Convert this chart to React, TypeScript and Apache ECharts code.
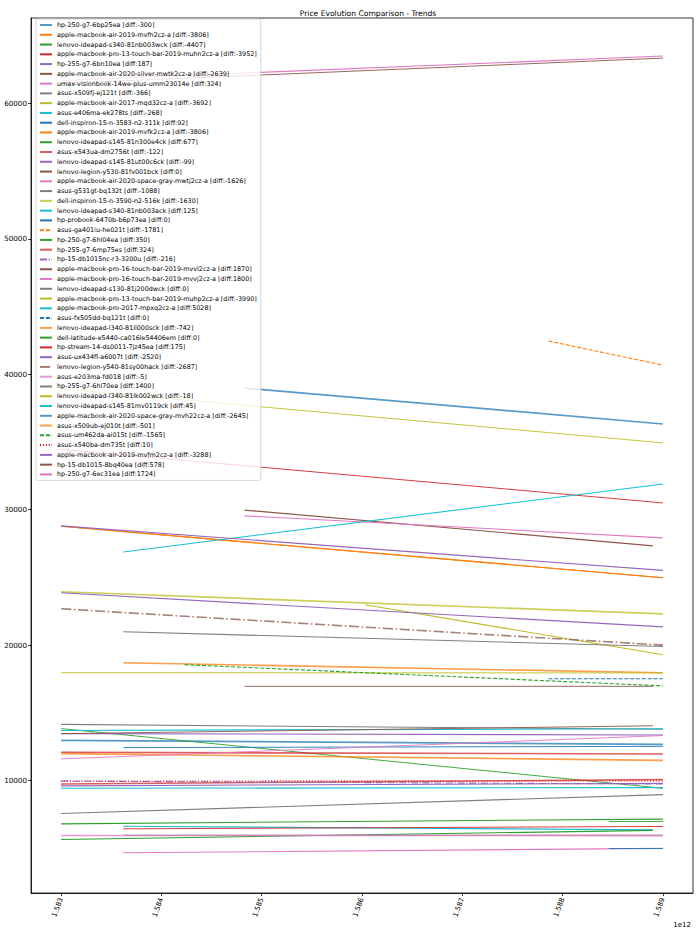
import React, { useEffect, useRef } from "react";
import * as echarts from "echarts";

// ---------- data ----------
const productNames = [
  "hp-250-g7-6bp25ea",
  "apple-macbook-air-2019-mvfh2cz-a",
  "lenovo-ideapad-s340-81nb003wck",
  "apple-macbook-pro-13-touch-bar-2019-muhn2cz-a",
  "hp-255-g7-6bn10ea",
  "apple-macbook-air-2020-silver-mwtk2cz-a",
  "umax-visionbook-14we-plus-umm23014e",
  "asus-x509fj-ej121t",
  "apple-macbook-air-2017-mqd32cz-a",
  "asus-e406ma-ek278ts",
  "dell-inspiron-15-n-3583-n2-311k",
  "apple-macbook-air-2019-mvfk2cz-a",
  "lenovo-ideapad-s145-81n300e4ck",
  "asus-x543ua-dm2756t",
  "lenovo-ideapad-s145-81ut00c6ck",
  "lenovo-legion-y530-81fv001bck",
  "apple-macbook-air-2020-space-gray-mwtj2cz-a",
  "asus-g531gt-bq132t",
  "dell-inspiron-15-n-3590-n2-516k",
  "lenovo-ideapad-s340-81nb003ack",
  "hp-probook-6470b-b6p73ea",
  "asus-ga401iu-he021t",
  "hp-250-g7-6hl04ea",
  "hp-255-g7-6mp75es",
  "hp-15-db1015nc-r3-3200u",
  "apple-macbook-pro-16-touch-bar-2019-mvvl2cz-a",
  "apple-macbook-pro-16-touch-bar-2019-mvvj2cz-a",
  "lenovo-ideapad-s130-81j200dwck",
  "apple-macbook-pro-13-touch-bar-2019-muhp2cz-a",
  "apple-macbook-pro-2017-mpxq2cz-a",
  "asus-fx505dd-bq121t",
  "lenovo-ideapad-l340-81ll000sck",
  "dell-latitude-e5440-ca016le54406em",
  "hp-stream-14-ds0011-7jz45ea",
  "asus-ux434fl-a6007t",
  "lenovo-legion-y540-81sy00hack",
  "asus-e203ma-fd018",
  "hp-255-g7-6hl70ea",
  "lenovo-ideapad-l340-81lk002wck",
  "lenovo-ideapad-s145-81mv0119ck",
  "apple-macbook-air-2020-space-gray-mvh22cz-a",
  "asus-x509ub-ej010t",
  "asus-um462da-ai015t",
  "asus-x540ba-dm735t",
  "apple-macbook-air-2019-mvfm2cz-a",
  "hp-15-db1015-8bq40ea",
  "hp-250-g7-6ec31ea",
];

const priceDiffs = [
  -300, -3806, -4407, -3952, 187, -2639, 324, -366, -3692, -268,
  92, -3806, 677, -122, -99, 0, -1626, -1088, -1630, 125,
  0, -1781, 350, 324, -216, 1870, 1800, 0, -3990, 5028,
  0, -742, 0, 175, -2520, -2687, -5, 1400, -18, 45,
  -2645, -501, -1565, 10, -3288, 578, 1724,
];

// timestamps (ms) of first and last trend point
const startTimes = [
  1583000000000, 1583000000000, 1583000000000, 1583000000000, 1583000000000,
  1584830000000, 1583620000000, 1583000000000, 1586030000000, 1583620000000,
  1583620000000, 1583000000000, 1583000000000, 1583000000000, 1583000000000,
  1584830000000, 1584830000000, 1583620000000, 1583000000000, 1583000000000,
  1588460000000, 1587860000000, 1583000000000, 1583000000000, 1583000000000,
  1583000000000, 1583000000000, 1583620000000, 1583000000000, 1583620000000,
  1587860000000, 1583620000000, 1588460000000, 1583620000000, 1583000000000,
  1583000000000, 1583000000000, 1583000000000, 1583000000000, 1583000000000,
  1584830000000, 1583000000000, 1584230000000, 1583000000000, 1583000000000,
  1583000000000, 1583000000000,
];

const endTimes = [
  1589000000000, 1589000000000, 1589000000000, 1589000000000, 1589000000000,
  1588900000000, 1589000000000, 1589000000000, 1589000000000, 1588900000000,
  1589000000000, 1589000000000, 1588900000000, 1589000000000, 1589000000000,
  1588900000000, 1589000000000, 1589000000000, 1589000000000, 1589000000000,
  1589000000000, 1589000000000, 1589000000000, 1589000000000, 1589000000000,
  1589000000000, 1589000000000, 1589000000000, 1589000000000, 1589000000000,
  1589000000000, 1589000000000, 1589000000000, 1589000000000, 1589000000000,
  1589000000000, 1589000000000, 1589000000000, 1589000000000, 1589000000000,
  1589000000000, 1589000000000, 1589000000000, 1589000000000, 1589000000000,
  1588900000000, 1589000000000,
];

const startPrices = [
  12970, 28780, 13840, 34450, 9610, 29970, 4668, 14150, 22980, 6630,
  12434, 28780, 5649, 12087, 13466, 16960, 29546, 20990, 23940, 13700,
  4985, 42450, 6807, 9750, 9960, 61470, 61690, 5966, 38920, 26872,
  17520, 18700, 6976, 6438, 23865, 22685, 5944, 7566, 17965, 9432,
  38975, 11991, 18555, 9971, 28805, 13466, 11600,
];

const endPrices = [
  12670, 24974, 9433, 30498, 9797, 27331, 4992, 13784, 19288, 6362,
  12526, 24974, 6326, 11965, 13367, 16960, 27920, 19902, 22310, 13825,
  4985, 40669, 7157, 10074, 9744, 63340, 63490, 5966, 34930, 31900,
  17520, 17958, 6976, 6613, 21345, 19998, 5939, 8966, 17947, 9477,
  36330, 11490, 16990, 9981, 25517, 14044, 13324,
];

const xTickValues = [
  1583000000000, 1584000000000, 1585000000000, 1586000000000,
  1587000000000, 1588000000000, 1589000000000,
];
const yTickValues = [10000, 20000, 30000, 40000, 50000, 60000];

// ---------- styles ----------
const palette = [
  "#1f77b4", "#ff7f0e", "#2ca02c", "#d62728", "#9467bd",
  "#8c564b", "#e377c2", "#7f7f7f", "#bcbd22", "#17becf",
];
// t = thin, m = medium, b = bold
const weightCodes = "bmttmmmmmmtmmbmtmmbmtmmbmtmmtmmbttmbbmtmbbmmmtt";
const dashCodes: Record<number, string> = {
  21: "dashed", 24: "dashdot", 30: "dashed", 35: "dashdot", 42: "dashed", 43: "dotted",
};

function lineStyleFor(i: number) {
  const w = weightCodes[i];
  const width = w === "b" ? 1.6 : w === "t" ? 0.9 : 1.1;
  const opacity = w === "b" ? 0.75 : 1;
  const d = dashCodes[i];
  let type: any = "solid";
  if (d === "dashed") type = [3.7 * width, 1.6 * width];
  else if (d === "dotted") type = [1 * width, 1.65 * width];
  else if (d === "dashdot") type = [6.4 * width, 1.6 * width, 1 * width, 1.6 * width];
  return { color: palette[i % 10], width, opacity, type };
}

const FONT = "DejaVu Sans";

export default function App() {
  const ref = useRef<HTMLDivElement>(null);

  useEffect(() => {
    if (!ref.current) return;
    const chart = echarts.init(ref.current, undefined, { renderer: "svg" });

    const series = productNames.map((name, i) => ({
      type: "line",
      name: `${name} [diff:${priceDiffs[i]}]`,
      data: [
        [startTimes[i], startPrices[i]],
        [endTimes[i], endPrices[i]],
      ],
      symbol: "none",
      showSymbol: false,
      silent: true,
      lineStyle: lineStyleFor(i),
      itemStyle: { color: palette[i % 10] },
      emphasis: { disabled: true },
    }));

    chart.setOption({
      animation: false,
      backgroundColor: "#ffffff",
      title: {
        text: "Price Evolution Comparison - Trends",
        left: 363,
        top: 4,
        textAlign: "center",
        textStyle: { fontSize: 7.6, fontWeight: "normal", color: "#000", fontFamily: FONT },
      },
      grid: {
        left: 31,
        right: 7,
        top: 18,
        bottom: 40,
        show: true,
        borderColor: "#000",
        borderWidth: 0.8,
        backgroundColor: "transparent",
      },
      legend: {
        orient: "vertical",
        left: 36,
        top: 19,
        itemWidth: 12,
        itemHeight: 6,
        itemGap: 3.77,
        padding: [3, 4, 3, 3],
        backgroundColor: "rgba(255,255,255,0.8)",
        borderColor: "#cccccc",
        borderWidth: 0.8,
        borderRadius: 2,
        selectedMode: false,
        itemStyle: { opacity: 0 },
        textStyle: { fontSize: 6.4, lineHeight: 6, color: "#000", fontFamily: FONT },
        data: series.map((s) => s.name),
      },
      xAxis: {
        type: "value",
        min: 1582700000000,
        max: 1589300000000,
        axisLine: { show: true, onZero: false, lineStyle: { color: "#000", width: 0.8 } },
        axisTick: { show: true, customValues: xTickValues, length: 3, lineStyle: { color: "#000", width: 0.8 } },
        axisLabel: {
          customValues: xTickValues,
          formatter: (v: number) => (v / 1e12).toFixed(3),
          rotate: 70,
          fontSize: 7,
          color: "#000",
          fontFamily: FONT,
          margin: 5,
        },
        splitLine: { show: false },
      },
      yAxis: {
        type: "value",
        min: 1700,
        max: 66300,
        axisLine: { show: true, onZero: false, lineStyle: { color: "#000", width: 0.8 } },
        axisTick: { show: true, customValues: yTickValues, length: 3, lineStyle: { color: "#000", width: 0.8 } },
        axisLabel: {
          customValues: yTickValues,
          formatter: (v: number) => String(v),
          fontSize: 7.2,
          color: "#000",
          fontFamily: FONT,
          margin: 4,
        },
        splitLine: { show: false },
      },
      graphic: [
        {
          type: "text",
          x: 691,
          y: 925,
          style: { text: "1e12", align: "right", verticalAlign: "middle", fontSize: 7, fill: "#000", fontFamily: FONT },
        },
      ],
      series,
    });

    return () => chart.dispose();
  }, []);

  return (
    <div
      ref={ref}
      style={{ position: "fixed", left: 0, top: 0, width: 700, height: 933, background: "#fff" }}
    />
  );
}
